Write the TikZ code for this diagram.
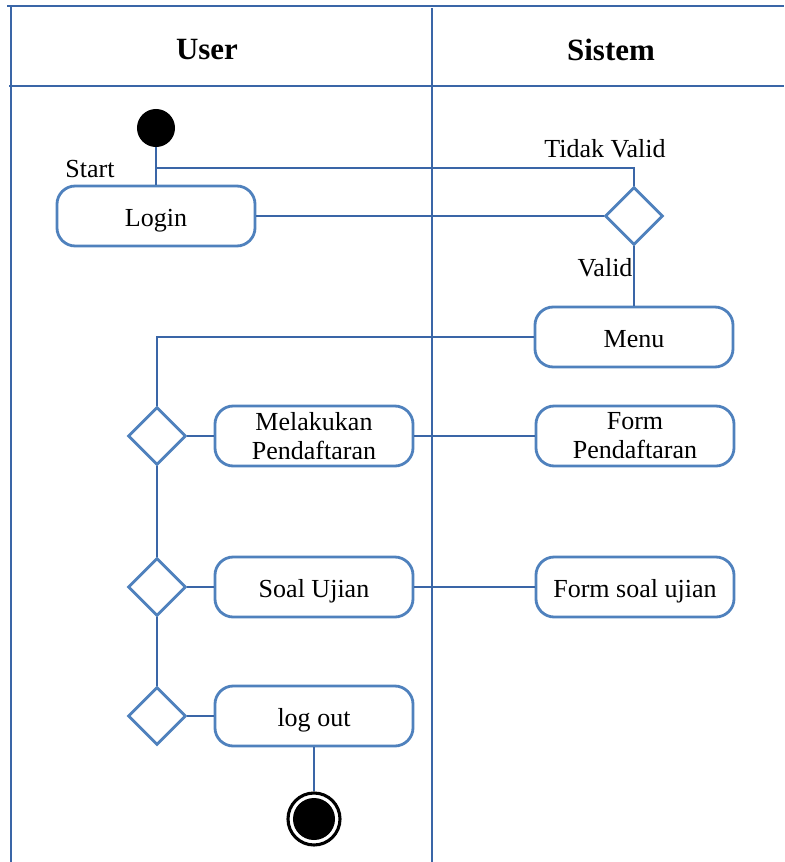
\documentclass[tikz,border=0pt]{standalone}
\usepackage{fontspec}
\setmainfont{Liberation Serif}
\usepackage{tikz}
\usetikzlibrary{shapes.geometric}
\definecolor{boxblue}{RGB}{79,129,189}
\definecolor{lineblue}{RGB}{58,102,167}

\begin{document}
\begin{tikzpicture}[x=0.025cm, y=-0.025cm,
  act/.style={draw=boxblue, line width=2pt, rounded corners=13pt,
    minimum width=4.95cm, minimum height=1.5cm, align=center,
    font=\fontsize{18.5}{20.5}\selectfont, fill=white},
  oneline/.style={text height=15.5pt, text depth=0.5pt},
  choice/.style={diamond, draw=boxblue, line width=2pt, aspect=1,
    minimum width=1.45cm, minimum height=1.45cm, inner sep=0pt, fill=white},
  flow/.style={draw=lineblue, line width=0.9pt},
  lane/.style={draw=lineblue, line width=1.1pt},
  tag/.style={font=\fontsize{18.5}{20.5}\selectfont},
  head/.style={font=\fontsize{22}{24}\selectfont\bfseries},
]
  \useasboundingbox (0,0) rectangle (784,862);

  \draw[lane] (7,6) -- (784,6);
  \draw[lane] (11,6) -- (11,862);
  \draw[lane] (432,8) -- (432,862);
  \draw[lane] (9,86) -- (784,86);
  \node[head] (user) at (207,50) {User};
  \node[head] (sistem) at (611,50) {Sistem};

  \node[circle, fill=black, minimum size=0.95cm, inner sep=0pt] (start) at (156,128) {};
  \node[act, oneline] (login) at (156,216) {Login};
  \node[choice] (cek) at (634,216) {};
  \node[act, oneline] (menu) at (634,337) {Menu};
  \node[choice] (pilih1) at (157,436) {};
  \node[choice] (pilih2) at (157,587) {};
  \node[choice] (pilih3) at (157,716) {};
  \node[act] (daftar) at (314,436) {Melakukan\\Pendaftaran};
  \node[act] (formdaftar) at (635,436) {Form\\Pendaftaran};
  \node[act, oneline] (soal) at (314,587) {Soal Ujian};
  \node[act, oneline] (formsoal) at (635,587) {Form soal ujian};
  \node[act, oneline] (logout) at (314,716) {log out};
  \node[circle, draw=black, line width=2.2pt, minimum size=1.3cm, inner sep=0pt] (stop) at (314,819) {};
  \node[circle, fill=black, minimum size=1.05cm, inner sep=0pt] (stopdot) at (stop) {};

  \node[tag] (lstart) at (90,169) {Start};
  \node[tag] (ltidak) at (605,149) {Tidak Valid};
  \node[tag] (lvalid) at (605,268) {Valid};

  \coordinate (split) at (157,168);
  \draw[flow] (start) -- (login);
  \draw[flow] (split) -| (cek.north);
  \draw[flow] (login) -- (cek);
  \draw[flow] (cek) -- (menu);
  \draw[flow] (menu.west) -| (pilih1.north);
  \draw[flow] (pilih1) -- (pilih2);
  \draw[flow] (pilih2) -- (pilih3);
  \draw[flow] (pilih1) -- (daftar);
  \draw[flow] (daftar) -- (formdaftar);
  \draw[flow] (pilih2) -- (soal);
  \draw[flow] (soal) -- (formsoal);
  \draw[flow] (pilih3) -- (logout);
  \draw[flow] (logout) -- (stop);
\end{tikzpicture}
\end{document}
